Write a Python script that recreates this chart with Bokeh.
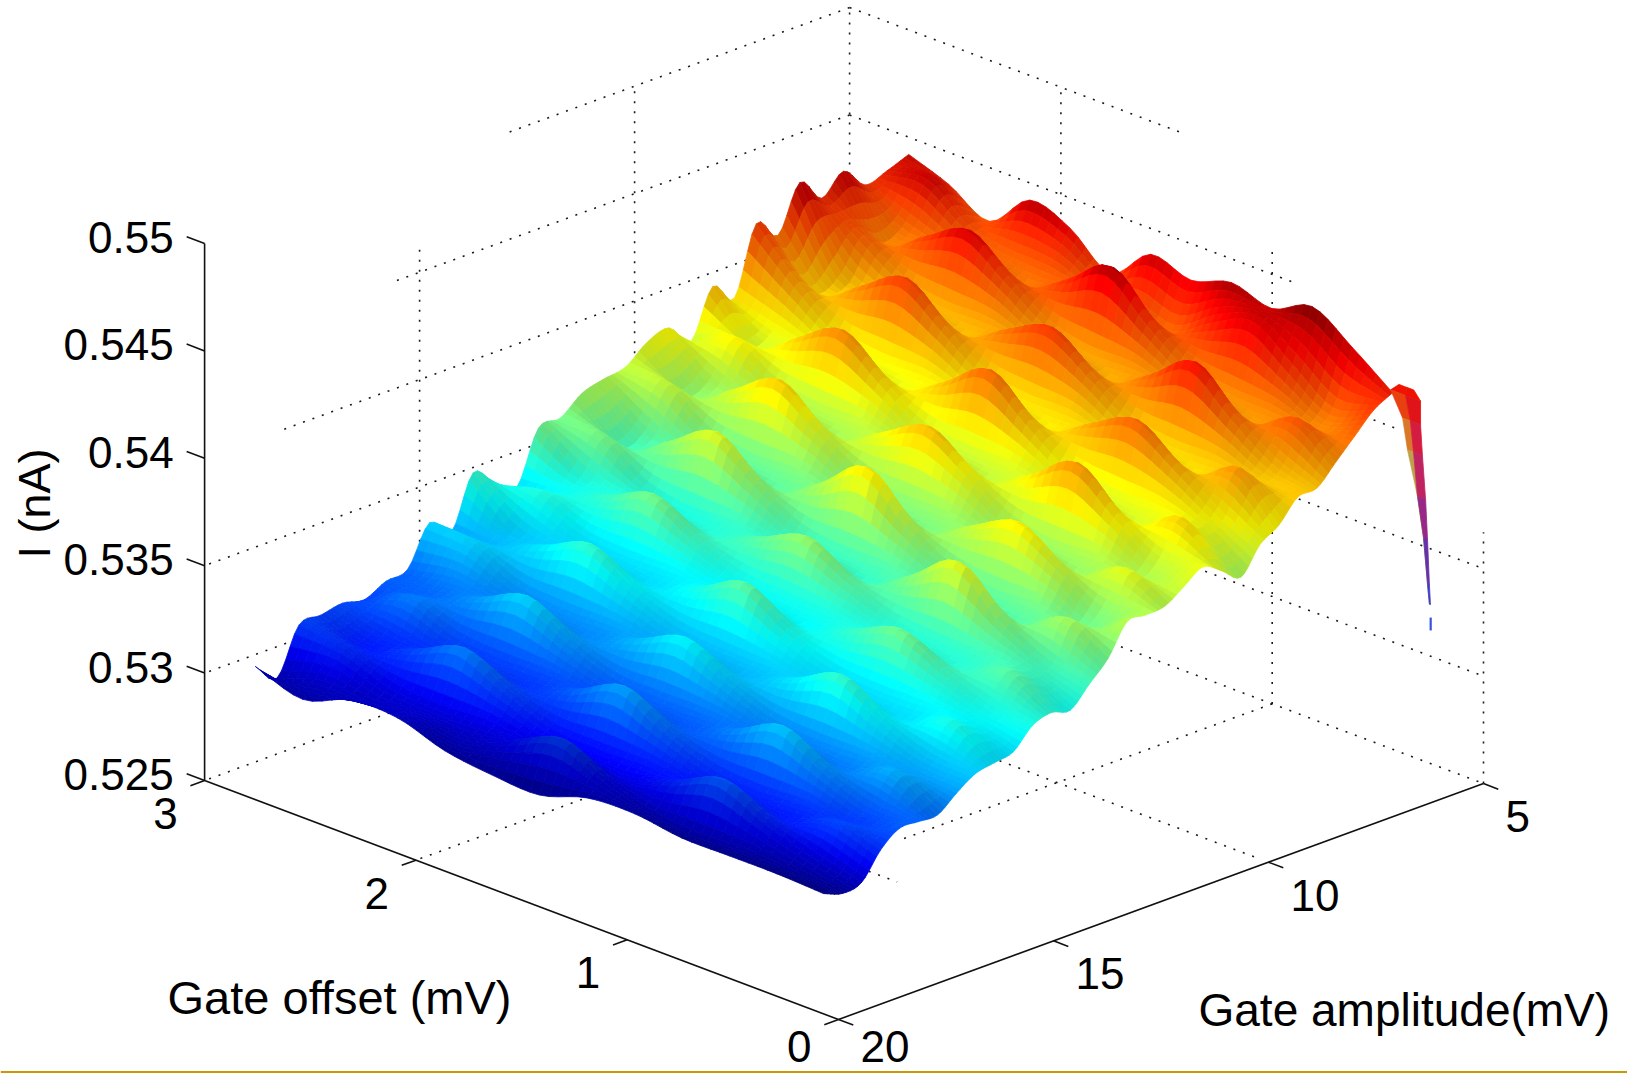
import numpy as np
from bokeh.plotting import figure
from bokeh.models import Range1d
from bokeh.core.properties import value
from bokeh.embed import file_html
from bokeh.resources import INLINE

# ---------- data ----------
amplitude_mV = [20.0 - 0.5 * k for k in range(31)]      # rows of the grid
column_fraction = [k / 12 for k in range(13)]           # position between the two offset edges
offset_low_at_20, offset_low_at_5 = 0.07, 0.43          # near edge of the measured area (mV)
offset_high_at_20, offset_high_at_5 = 2.76, 2.72        # far edge of the measured area (mV)

# current in units of 1e-4 nA, one row per amplitude, low offset -> high offset
current_grid = [
 [5306,5307,5307,5307,5310,5309,5302,5303,5306,5313,5313,5305,5312],
 [5302,5304,5306,5305,5307,5314,5324,5315,5307,5310,5308,5310,5303],
 [5303,5309,5316,5326,5317,5310,5312,5311,5313,5312,5314,5321,5324],
 [5314,5319,5312,5315,5313,5315,5315,5316,5324,5334,5325,5318,5325],
 [5320,5315,5317,5316,5318,5326,5337,5327,5320,5323,5321,5323,5327],
 [5319,5320,5328,5339,5329,5322,5325,5323,5325,5325,5327,5334,5325],
 [5318,5330,5323,5326,5325,5327,5327,5328,5336,5347,5338,5331,5330],
 [5324,5326,5328,5328,5330,5338,5348,5339,5332,5335,5334,5336,5332],
 [5329,5331,5339,5351,5341,5334,5337,5335,5337,5337,5339,5348,5350],
 [5330,5341,5334,5337,5336,5338,5339,5341,5349,5360,5351,5344,5342],
 [5331,5337,5339,5339,5341,5349,5362,5352,5345,5348,5347,5349,5366],
 [5339,5342,5350,5360,5352,5345,5349,5348,5350,5350,5352,5361,5357],
 [5341,5352,5346,5349,5348,5350,5351,5353,5361,5372,5363,5357,5352],
 [5338,5348,5350,5351,5353,5361,5372,5364,5357,5360,5360,5362,5376],
 [5346,5351,5363,5380,5366,5354,5359,5357,5360,5359,5363,5376,5377],
 [5354,5365,5354,5359,5357,5360,5360,5363,5375,5390,5378,5367,5385],
 [5367,5356,5360,5359,5363,5375,5393,5378,5366,5372,5369,5373,5388],
 [5366,5362,5374,5386,5377,5366,5371,5369,5373,5372,5376,5389,5390],
 [5366,5376,5365,5371,5368,5372,5372,5375,5388,5403,5391,5380,5398],
 [5371,5367,5371,5370,5374,5387,5400,5390,5379,5385,5382,5386,5401],
 [5376,5373,5386,5402,5389,5378,5384,5381,5385,5385,5389,5400,5391],
 [5370,5387,5376,5382,5380,5384,5384,5387,5400,5415,5404,5392,5413],
 [5363,5378,5382,5382,5386,5399,5415,5402,5391,5397,5395,5399,5404],
 [5374,5384,5397,5410,5401,5390,5396,5393,5397,5397,5401,5415,5435],
 [5379,5398,5387,5393,5391,5396,5396,5400,5413,5428,5417,5406,5426],
 [5388,5389,5393,5393,5397,5410,5423,5415,5404,5410,5408,5412,5447],
 [5388,5395,5408,5425,5412,5401,5408,5406,5410,5410,5414,5426,5436],
 [5396,5409,5399,5405,5403,5407,5407,5412,5425,5439,5429,5419,5445],
 [5404,5400,5404,5405,5409,5422,5440,5427,5416,5422,5421,5425,5435],
 [5412,5406,5419,5432,5424,5413,5419,5418,5422,5423,5427,5441,5438],
 [5416,5430,5442,5434,5439,5433,5438,5422,5436,5442,5425,5435,5442],
]

# the thin falling sliver at the 5 mV end of the scan
spike_current = [0.5421, 0.5417, 0.5406, 0.5392, 0.5372, 0.5354, 0.5333, 0.5324]
spike_offset_front = [0.40, 0.44, 0.383, 0.360, 0.312, 0.284, 0.265, 0.256]
spike_offset_mid = [0.36, 0.369, 0.346, 0.331, 0.312, 0.284, 0.265, 0.256]
spike_offset_back = [0.33, 0.298, 0.298, 0.289, 0.274, 0.265, 0.256, 0.251]
spike_tail_current = [0.5318, 0.5312]
spike_tail_offset = [0.25, 0.25]

z_ticks = [0.525, 0.53, 0.535, 0.54, 0.545, 0.55]
z_labels = ["0.525", "0.53", "0.535", "0.54", "0.545", "0.55"]
offset_ticks = [0, 1, 2, 3]
offset_labels = ["0", "1", "2", "3"]
amp_ticks = [20, 15, 10, 5]
amp_labels = ["20", "15", "10", "5"]

# dotted wall / floor grid, cut where the picture cuts it
left_wall_levels = [0.55, 0.545, 0.54, 0.535, 0.53]
left_wall_reach_amp = [13.07, 15.67, 18.2, 20.0, 20.0]
right_wall_levels = [0.55, 0.545, 0.54, 0.535, 0.53]
right_wall_reach_off = [1.424, 0.894, 0.41, 0.0, 0.0]
right_verticals_off = [0, 1, 2, 3]
right_verticals_top = [0.5367, 0.5463, 0.5499, 0.55]
left_verticals_amp = [15, 10]
left_verticals_top = [0.5462, 0.55]
floor_amp_lines = [15, 10]
floor_amp_reach_off = [0.74, 0.06]
floor_off_lines = [2, 1]
floor_off_reach_amp = [20.0, 13.7]

# ---------- view ----------
X0, Y0 = 838.0, 1019.0
AX, AY = 43.0, 15.73      # px per mV of (20 - amplitude)
OX, OY = 211.3, 79.67     # px per mV of offset
ZK = 21480.0              # px per nA


def project(a, o, z):
    a, o, z = np.asarray(a, float), np.asarray(o, float), np.asarray(z, float)
    d = 20.0 - a
    return X0 + AX * d - OX * o, Y0 - AY * d - OY * o - ZK * (z - 0.525)


W, H = 1627, 1073
p = figure(width=W, height=H, x_range=Range1d(0, W), y_range=Range1d(H, 0),
           toolbar_location=None, output_backend="svg", min_border=0,
           background_fill_color="white", border_fill_color="white")
p.axis.visible = False
p.grid.visible = False
p.outline_line_color = None

DOT = dict(line_color="#1a1a1a", line_width=1.6, line_dash="2 8")


def dotted(a, o, z):
    x, y = project(a, o, z)
    p.line(list(x), list(y), **DOT)


for lv, reach in zip(left_wall_levels, left_wall_reach_amp):
    dotted([5, reach], [3, 3], [lv, lv])
for lv, reach in zip(right_wall_levels, right_wall_reach_off):
    dotted([5, 5], [3, reach], [lv, lv])
for o, top in zip(right_verticals_off, right_verticals_top):
    dotted([5, 5], [o, o], [0.525, top])
for a, top in zip(left_verticals_amp, left_verticals_top):
    dotted([a, a], [3, 3], [0.525, top])
dotted([5, 20], [3, 3], [0.525, 0.525])
dotted([5, 5], [3, 0], [0.525, 0.525])
for a, reach in zip(floor_amp_lines, floor_amp_reach_off):
    dotted([a, a], [3, reach], [0.525, 0.525])
for o, reach in zip(floor_off_lines, floor_off_reach_amp):
    dotted([5, reach], [o, o], [0.525, 0.525])

# ---------- surface ----------
SUB = 5  # smooth ("interp") shading: each measured cell is drawn as SUB x SUB facets


def smooth_axis(M, axis, n):
    M = np.moveaxis(M, axis, 0)
    P = np.concatenate([2 * M[:1] - M[1:2], M, 2 * M[-1:] - M[-2:-1]], axis=0)
    out = []
    for k in range(M.shape[0] - 1):
        for s in range(n):
            t = s / n
            out.append(0.5 * (2 * P[k + 1] + (P[k + 2] - P[k]) * t
                              + (2 * P[k] - 5 * P[k + 1] + 4 * P[k + 2] - P[k + 3]) * t * t
                              + (-P[k] + 3 * P[k + 1] - 3 * P[k + 2] + P[k + 3]) * t ** 3))
    out.append(M[-1])
    return np.moveaxis(np.array(out), 0, axis)


grid = np.array(current_grid, float) * 1e-4
amps = np.array(amplitude_mV)
frac = np.array(column_fraction)
depth = (20.0 - amps) / 15.0
o_lo = offset_low_at_20 + (offset_low_at_5 - offset_low_at_20) * depth
o_hi = offset_high_at_20 + (offset_high_at_5 - offset_high_at_20) * depth
offs = o_lo[:, None] + (o_hi - o_lo)[:, None] * frac[None, :]
aa = np.repeat(amps[:, None], len(frac), axis=1)

Z = smooth_axis(smooth_axis(grid, 0, SUB), 1, SUB)
A = smooth_axis(smooth_axis(aa, 0, SUB), 1, SUB)
O = smooth_axis(smooth_axis(offs, 0, SUB), 1, SUB)
g_row, g_col = np.gradient(Z)
g_row, g_col = g_row * SUB, g_col * SUB
X, Y = project(A, O, Z)
CMIN, CRANGE = 0.5293, 0.0172


def jet(c):
    c = np.clip(c, 0, 1)
    r = np.clip(np.minimum(4 * c - 1.5, -4 * c + 4.5), 0, 1)
    g = np.clip(np.minimum(4 * c - 0.5, -4 * c + 3.5), 0, 1)
    b = np.clip(np.minimum(4 * c + 0.5, -4 * c + 2.5), 0, 1)
    return np.array([r, g, b])


def cell_mean(M):
    return 0.25 * (M[:-1, :-1] + M[1:, :-1] + M[:-1, 1:] + M[1:, 1:])


zc, dc, grc, gcc = cell_mean(Z), 20.0 - cell_mean(A), cell_mean(g_row), cell_mean(g_col)
nr, nc = zc.shape
xs, ys, cols = [], [], []
for i in range(nr - 1, -1, -1):
    for j in range(nc - 1, -1, -1):
        xs.append([float(X[i, j]), float(X[i + 1, j]), float(X[i + 1, j + 1]), float(X[i, j + 1])])
        ys.append([float(Y[i, j]), float(Y[i + 1, j]), float(Y[i + 1, j + 1]), float(Y[i, j + 1])])
        fc = (j + 0.5) / nc
        rowf = (i + 0.5) / SUB
        czv = zc[i, j] + min(0.0022, dc[i, j] * 0.0005) * (1 - fc)
        rgb = jet((czv - CMIN) / CRANGE)
        shade = 1.0 - np.clip((gcc[i, j] - 0.2 * grc[i, j]) / 0.0012, 0, 1) * 0.12
        top = 1.0 - np.clip((zc[i, j] - 0.5432) / 0.0014, 0, 1) * 0.28
        front = 1.0 - 0.4 * np.clip(1 - rowf / 2.5, 0, 1) * (1 - 0.6 * fc)
        v = np.clip(rgb * shade * top * front, 0, 1)
        cols.append("#%02x%02x%02x" % tuple(int(round(t * 255)) for t in v))

p.patches(xs, ys, fill_color=cols, line_color=cols, line_width=0.8)

# ---------- sliver ----------
front_colors = ["#f01400", "#e84010", "#d87828", "#c0a048", "#a8c850", "#9ad860", "#9ad860"]
back_colors = ["#f01000", "#e01418", "#d41c40", "#c02460", "#982888", "#6830a8", "#4438c8"]
for k in range(len(spike_current) - 1):
    z4 = [spike_current[k], spike_current[k + 1], spike_current[k + 1], spike_current[k]]
    o4 = [spike_offset_front[k], spike_offset_front[k + 1], spike_offset_mid[k + 1], spike_offset_mid[k]]
    x, y = project([5, 5, 5, 5], o4, z4)
    p.patch(list(x), list(y), fill_color=front_colors[k], line_color=front_colors[k], line_width=0.6)
    o4 = [spike_offset_mid[k], spike_offset_mid[k + 1], spike_offset_back[k + 1], spike_offset_back[k]]
    x, y = project([5, 5, 5, 5], o4, z4)
    p.patch(list(x), list(y), fill_color=back_colors[k], line_color=back_colors[k], line_width=0.8)
x, y = project([5, 5], spike_tail_offset, spike_tail_current)
p.line(list(x), list(y), line_color="#3a50e0", line_width=2.2)

# ---------- axes ----------
AXIS = dict(line_color="#111111", line_width=1.6)
x, y = project([20, 20], [3, 3], [0.525, 0.55])
p.line(list(x), list(y), **AXIS)
x, y = project([20, 20], [0, 3], [0.525, 0.525])
p.line(list(x), list(y), **AXIS)
x, y = project([20, 5], [0, 0], [0.525, 0.525])
p.line(list(x), list(y), **AXIS)

FONT = value("Liberation Sans")
LABEL = dict(text_font=FONT, text_color="#000000", text_font_size="44px")
LOWEST_LABEL_CENTRE = 1046.0

for z, lab in zip(z_ticks, z_labels):
    x, y = project([20, 20], [3, 3.085], [z, z])
    p.line(list(x), list(y), **AXIS)
    tx, ty = project(20, 3, z)
    p.text([float(tx) - 31], [float(ty) - 6], text=[lab], text_align="right", text_baseline="middle", **LABEL)
for o, lab in zip(offset_ticks, offset_labels):
    x, y = project([20, 20.33], [o, o], [0.525, 0.525])
    p.line(list(x), list(y), **AXIS)
    tx, ty = project(20, o, 0.525)
    p.text([float(tx) - 27], [min(float(ty) + 33, LOWEST_LABEL_CENTRE)], text=[lab], text_align="right",
           text_baseline="middle", **LABEL)
for a, lab in zip(amp_ticks, amp_labels):
    x, y = project([a, a], [0, -0.07], [0.525, 0.525])
    p.line(list(x), list(y), **AXIS)
    tx, ty = project(a, 0, 0.525)
    p.text([float(tx) + 22], [min(float(ty) + 33, LOWEST_LABEL_CENTRE)], text=[lab], text_align="left",
           text_baseline="middle", **LABEL)

p.text([34], [503], text=["I (nA)"], angle=np.pi / 2, text_align="center", text_baseline="middle",
       text_font=FONT, text_color="#000000", text_font_size="45px")
p.text([339], [997], text=["Gate offset (mV)"], text_align="center", text_baseline="middle",
       text_font=FONT, text_color="#000000", text_font_size="47px")
p.text([1198], [1009], text=["Gate amplitude(mV)"], text_align="left", text_baseline="middle",
       text_font=FONT, text_color="#000000", text_font_size="46px")

# slide rule at the very bottom of the picture
p.quad(left=[0], right=[W], top=[1070.5], bottom=[H], fill_color="#c89a08", line_color=None)

open("out.html", "w").write(file_html(p, INLINE))
